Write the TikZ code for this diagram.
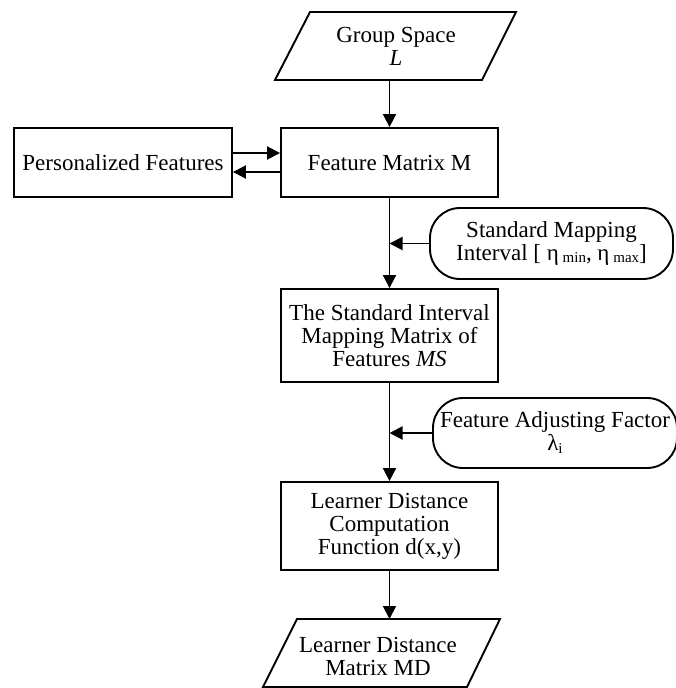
\documentclass[tikz,border=0pt]{standalone}
\usepackage{fontspec}
\setmainfont{Liberation Serif}
\usetikzlibrary{arrows.meta}
\newcommand{\subsz}{\fontsize{15}{15}\selectfont}
\begin{document}
\begin{tikzpicture}[x=1pt,y=-1pt,
  box/.style={draw,line width=1.9pt,align=center,font=\fontsize{23}{23}\selectfont,inner sep=0pt},
  txt/.style={align=center,font=\fontsize{23}{23}\selectfont,inner sep=0pt},
  rbox/.style={box,rounded corners=30pt},
  shp/.style={draw,line width=1.9pt,line join=miter},
  arr/.style={line width=1.9pt,-{Triangle[length=13pt,width=13pt]}}]
\useasboundingbox (0,0) rectangle (675,688);

% Group Space parallelogram
\draw[shp] (310,12) -- (516,12) -- (482,80) -- (275,80) -- cycle;
\node[txt] (gs) at (396,46) {Group Space\\\textit{L}};
\coordinate (gsb) at (389.5,80);

% boxes
\node[box,minimum width=218pt,minimum height=69pt] (pf) at (123,162.5) {Personalized Features};
\node[box,minimum width=217pt,minimum height=69pt] (fm) at (389.5,162.5) {Feature Matrix M};
\node[box,minimum width=217pt,minimum height=93pt] (ms) at (389.5,335.5) {The Standard Interval\\Mapping Matrix of\\Features \textit{MS}};
\node[box,minimum width=217pt,minimum height=88pt] (ld) at (389.5,526) {Learner Distance\\Computation\\Function d(x,y)};

\node[rbox,minimum width=243pt,minimum height=71pt] (smi) at (551.5,243.5) {Standard Mapping\\Interval [ η\,\raisebox{-1.5pt}{\subsz min}, η\,\raisebox{-1.5pt}{\subsz max}]};
\node[rbox,minimum width=244pt,minimum height=70pt] (faf) at (555,433) {Feature Adjusting Factor\\λ\raisebox{-3pt}{\subsz i}};

% Learner Distance Matrix parallelogram
\draw[shp] (297,619) -- (500,619) -- (467,687) -- (263,687) -- cycle;
\node[txt] (md) at (378,656) {Learner Distance\\Matrix MD};
\coordinate (mdt) at (389.5,619);

% connectors
\draw[arr] (gsb) -- (fm.north);
\draw[arr] ([yshift=9.5pt]pf.east) -- ([yshift=9.5pt]fm.west);
\draw[arr] ([yshift=-9.5pt]fm.west) -- ([yshift=-9.5pt]pf.east);
\draw[arr] (fm.south) -- (ms.north);
\draw[arr] (smi.west) -- (smi.west -| fm.south);
\draw[arr] (ms.south) -- (ld.north);
\draw[arr] (faf.west) -- (faf.west -| ms.south);
\draw[arr] (ld.south) -- (mdt);
\end{tikzpicture}
\end{document}
